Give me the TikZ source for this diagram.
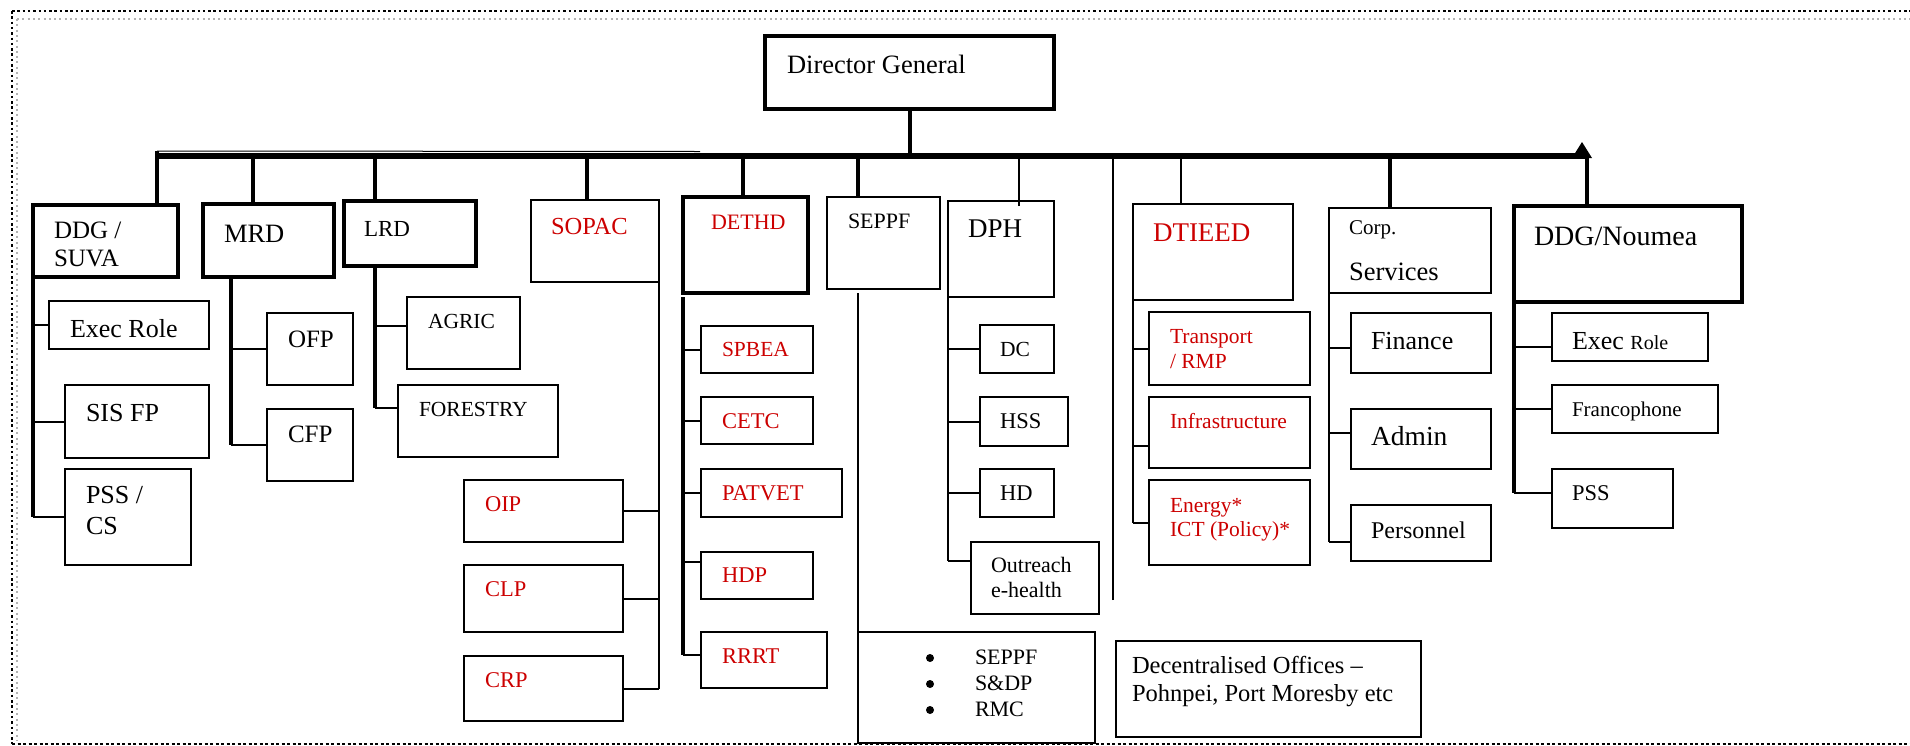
\documentclass[tikz,border=0pt]{standalone}
\usepackage{fontspec}
\setmainfont{Liberation Serif}
\definecolor{redt}{RGB}{204,0,0}
\newcommand\mkbox[6]{\node[#1, minimum width={(#4-#2)*1pt}, minimum height={(#5-#3)*1pt}, anchor=north west] (#6) at (#2,#3) {};}
\newcommand\fs[1]{\fontsize{#1}{#1}\selectfont}
\begin{document}
\begin{tikzpicture}[x=1pt,y=-1pt,
  box/.style={draw, line width=2pt, inner sep=0pt, outer sep=0pt},
  tbox/.style={draw, line width=4.5pt, inner sep=0pt, outer sep=0pt},
  txt/.style={anchor=base west, inner sep=0pt, outer sep=0pt},
  rtxt/.style={txt, text=redt},
  bulletdot/.style={circle, fill, inner sep=0pt, minimum size=8pt},
  conn/.style={line width=2pt},
  thinc/.style={line width=1.6pt},
  thickc/.style={line width=4pt},
  busline/.style={line width=6pt}]
\useasboundingbox (0,0) rectangle (1910,745);
% frame
\draw[line width=2.5pt, dash pattern=on 2.5pt off 2.8pt] (12,11) -- (1910,11);
\draw[gray!60, line width=2pt, dash pattern=on 2pt off 3.3pt] (17,19) -- (1910,19);
\draw[line width=2.5pt, dash pattern=on 2.5pt off 2.8pt] (12,11) -- (12,744);
\draw[gray!60, line width=2pt, dash pattern=on 2pt off 3.3pt] (17,19) -- (17,740);
\draw[line width=1.2pt, dash pattern=on 3pt off 2.5pt] (12,744) -- (1910,744);
% top-level boxes
\mkbox{tbox}{765}{36}{1054}{109}{dg}
\mkbox{tbox}{33}{205}{178}{277}{ddg}
\mkbox{tbox}{203}{204}{334}{277}{mrd}
\mkbox{tbox}{344}{201}{476}{266}{lrd}
\mkbox{box}{531}{200}{659}{282}{sopac}
\mkbox{tbox}{683}{197}{808}{293}{dethd}
\mkbox{box}{827}{197}{940}{289}{seppf}
\mkbox{box}{948}{201}{1054}{297}{dph}
\mkbox{box}{1133}{204}{1293}{300}{dtieed}
\mkbox{box}{1329}{208}{1491}{293}{corp}
\mkbox{tbox}{1514}{206}{1742}{302}{ddgn}
% child boxes
\mkbox{box}{49}{301}{209}{349}{execa}
\mkbox{box}{65}{385}{209}{458}{sisfp}
\mkbox{box}{65}{469}{191}{565}{psscs}
\mkbox{box}{267}{313}{353}{385}{ofp}
\mkbox{box}{267}{409}{353}{481}{cfp}
\mkbox{box}{407}{297}{520}{369}{agric}
\mkbox{box}{398}{385}{558}{457}{forestry}
\mkbox{box}{464}{480}{623}{542}{oip}
\mkbox{box}{464}{565}{623}{632}{clp}
\mkbox{box}{464}{656}{623}{721}{crp}
\mkbox{box}{701}{326}{813}{373}{spbea}
\mkbox{box}{701}{397}{813}{444}{cetc}
\mkbox{box}{701}{469}{842}{517}{patvet}
\mkbox{box}{701}{552}{813}{599}{hdp}
\mkbox{box}{701}{632}{827}{688}{rrrt}
\mkbox{box}{980}{325}{1054}{373}{dc}
\mkbox{box}{980}{397}{1068}{446}{hss}
\mkbox{box}{980}{469}{1054}{517}{hd}
\mkbox{box}{971}{542}{1099}{614}{outreach}
\mkbox{box}{858}{632}{1095}{743}{bul}
\mkbox{box}{1116}{641}{1421}{737}{decen}
\mkbox{box}{1149}{312}{1310}{385}{transport}
\mkbox{box}{1149}{397}{1310}{468}{infra}
\mkbox{box}{1149}{480}{1310}{565}{energy}
\mkbox{box}{1351}{313}{1491}{373}{finance}
\mkbox{box}{1351}{409}{1491}{469}{admin}
\mkbox{box}{1351}{505}{1491}{561}{personnel}
\mkbox{box}{1552}{313}{1708}{361}{execb}
\mkbox{box}{1552}{385}{1718}{433}{franco}
\mkbox{box}{1552}{469}{1673}{528}{pssb}
% bus
\coordinate (busL) at (157,156);
\coordinate (busR) at (1588,156);
\draw[line width=1pt] (157,151) -- (700,151.5);
\draw[busline] (busL) -- (busR);
\fill (1572,158) -- (1582,142) -- (1592,158) -- cycle;
% drops
\draw[thickc] (dg.south) -- (dg.south |- busL);
\draw[thickc] ([yshift=5pt]busL) -- (busL |- ddg.north);
\coordinate (dMRD) at ([xshift=50pt]mrd.north west);
\coordinate (dLRD) at ([xshift=31pt]lrd.north west);
\coordinate (dSOP) at ([xshift=56pt]sopac.north west);
\coordinate (dDET) at ([xshift=60pt]dethd.north west);
\coordinate (dSEP) at ([xshift=31pt]seppf.north west);
\coordinate (dDPH) at ([xshift=71pt,yshift=-5pt]dph.north west);
\coordinate (dDTI) at ([xshift=48pt]dtieed.north west);
\coordinate (dCOR) at ([xshift=61pt]corp.north west);
\coordinate (dDDN) at ([xshift=73pt]ddgn.north west);
\coordinate (stray) at (1113,600);
\foreach \d in {dMRD,dLRD,dSOP,dDET,dSEP,dCOR,dDDN}{\draw[thickc] (\d) -- (\d |- busL);}
\draw[thinc] (dDPH) -- (dDPH |- busL);
\draw[thinc] (dDTI) -- (dDTI |- busL);
\draw[thinc] (stray) -- (stray |- busL);
% DDG / SUVA branch
\draw[thickc] (ddg.south west) -- (ddg.south west |- psscs.west);
\draw[conn] (ddg.south west |- execa.west) -- (execa.west);
\draw[conn] (ddg.south west |- sisfp.west) -- (sisfp.west);
\draw[conn] (ddg.south west |- psscs.west) -- (psscs.west);
% MRD branch
\coordinate (vMRD) at ([xshift=28pt]mrd.south west);
\draw[thickc] (vMRD) -- (vMRD |- cfp.west);
\draw[conn] (vMRD |- ofp.west) -- (ofp.west);
\draw[conn] (vMRD |- cfp.west) -- (cfp.west);
% LRD branch
\coordinate (vLRD) at ([xshift=31pt]lrd.south west);
\draw[thickc] (vLRD) -- ([yshift=13pt]forestry.west -| vLRD);
\draw[conn] ([yshift=7pt]agric.west) -- ([yshift=7pt]agric.west -| vLRD);
\draw[conn] ([yshift=13pt]forestry.west) -- ([yshift=13pt]forestry.west -| vLRD);
% SOPAC branch
\draw[conn] (sopac.south east) -- (sopac.south east |- crp.east);
\draw[conn] (oip.east) -- (oip.east -| sopac.south east);
\draw[conn] (clp.east) -- (clp.east -| sopac.south east);
\draw[conn] (crp.east) -- (crp.east -| sopac.south east);
% DETHD branch
\coordinate (vDET) at ([yshift=-4pt]dethd.south west);
\draw[thickc] (vDET) -- ([yshift=5pt]vDET |- rrrt.west);
\draw[conn] (vDET |- spbea.west) -- (spbea.west);
\draw[conn] (vDET |- cetc.west) -- (cetc.west);
\draw[conn] (vDET |- patvet.west) -- (patvet.west);
\draw[conn] ([yshift=14pt]vDET |- hdp.west) -- ([yshift=14pt]hdp.west);
\draw[conn] ([yshift=5pt]vDET |- rrrt.west) -- ([yshift=5pt]rrrt.west);
% SEPPF branch
\draw[thinc] ([yshift=-4pt]dSEP |- seppf.south) -- (bul.north west);
% DPH branch
\draw[conn] (dph.south west) -- ([yshift=17pt]dph.south west |- outreach.west);
\draw[conn] (dph.south west |- dc.west) -- (dc.west);
\draw[conn] (dph.south west |- hss.west) -- (hss.west);
\draw[conn] (dph.south west |- hd.west) -- (hd.west);
\draw[conn] ([yshift=17pt]dph.south west |- outreach.west) -- ([yshift=17pt]outreach.west);
% DTIEED branch
\draw[conn] (dtieed.south west) -- (dtieed.south west |- energy.west);
\draw[conn] (dtieed.south west |- transport.west) -- (transport.west);
\draw[conn] ([yshift=-13.5pt]dtieed.south west |- infra.west) -- ([yshift=-13.5pt]infra.west);
\draw[conn] (dtieed.south west |- energy.west) -- (energy.west);
% Corp branch
\draw[conn] (corp.south west) -- ([yshift=-9pt]corp.south west |- personnel.west);
\draw[conn] ([yshift=-5pt]corp.south west |- finance.west) -- ([yshift=-5pt]finance.west);
\draw[conn] ([yshift=6pt]corp.south west |- admin.west) -- ([yshift=6pt]admin.west);
\draw[conn] ([yshift=-9pt]corp.south west |- personnel.west) -- ([yshift=-9pt]personnel.west);
% DDG Noumea branch
\draw[thickc] (ddgn.south west) -- ([yshift=5.5pt]ddgn.south west |- pssb.west);
\draw[conn] ([yshift=-10pt]ddgn.south west |- execb.west) -- ([yshift=-10pt]execb.west);
\draw[conn] (ddgn.south west |- franco.west) -- (franco.west);
\draw[conn] ([yshift=5.5pt]ddgn.south west |- pssb.west) -- ([yshift=5.5pt]pssb.west);
% texts
\node[txt] (tdg) at (787,73) {\fs{26.5}Director General};
\node[txt] (tddg1) at (54,238) {\fs{25}DDG /};
\node[txt] (tddg2) at (54,266) {\fs{25}SUVA};
\node[txt] (tmrd) at (224,242) {\fs{26.5}MRD};
\node[txt] (tlrd) at (364,236) {\fs{23}LRD};
\node[rtxt] (tsopac) at (551,234) {\fs{24.5}SOPAC};
\node[txt] (texeca) at (70,337) {\fs{26}Exec Role};
\node[txt] (tagric) at (428,328) {\fs{21.5}AGRIC};
\node[txt] (tofp) at (288,347) {\fs{25}OFP};
\node[txt] (tsis) at (86,421) {\fs{26}SIS FP};
\node[txt] (tpss1) at (86,503) {\fs{26}PSS /};
\node[txt] (tpss2) at (86,534) {\fs{26}CS};
\node[txt] (tcfp) at (288,442) {\fs{25}CFP};
\node[txt] (tfor) at (419,416) {\fs{21.5}FORESTRY};
\node[rtxt] (toip) at (485,511) {\fs{22.5}OIP};
\node[rtxt] (tclp) at (485,596) {\fs{22.5}CLP};
\node[rtxt] (tcrp) at (485,687) {\fs{22.5}CRP};
\node[rtxt] (tdethd) at (711,229) {\fs{22}DETHD};
\node[txt] (tseppf) at (848,228) {\fs{22}SEPPF};
\node[txt] (tdph) at (968,237) {\fs{27}DPH};
\node[rtxt] (tdtieed) at (1153,241) {\fs{27}DTIEED};
\node[rtxt] (tspbea) at (722,356) {\fs{21.5}SPBEA};
\node[txt] (tdc) at (1000,356) {\fs{21.5}DC};
\node[rtxt] (ttr1) at (1170,343) {\fs{21.5}Transport};
\node[rtxt] (ttr2) at (1170,368) {\fs{21.5}/ RMP};
\node[rtxt] (tcetc) at (722,428) {\fs{22.5}CETC};
\node[rtxt] (tpatvet) at (722,500) {\fs{22.5}PATVET};
\node[rtxt] (thdp) at (722,582) {\fs{22.5}HDP};
\node[rtxt] (trrrt) at (722,663) {\fs{22.5}RRRT};
\node[txt] (thss) at (1000,428) {\fs{22.5}HSS};
\node[txt] (thd) at (1000,500) {\fs{22.5}HD};
\node[txt] (tout1) at (991,572) {\fs{22}Outreach};
\node[txt] (tout2) at (991,597) {\fs{22}e-health};
\node[rtxt] (tinfra) at (1170,428) {\fs{21.5}Infrastructure};
\node[rtxt] (ten1) at (1170,512) {\fs{21.5}Energy*};
\node[rtxt] (ten2) at (1170,536) {\fs{21.5}ICT (Policy)*};
\node[bulletdot] (b1) at (930,658) {};
\node[bulletdot] (b2) at (930,684) {};
\node[bulletdot] (b3) at (930,710) {};
\node[txt] (tb1) at (975,664) {\fs{22}SEPPF};
\node[txt] (tb2) at (975,690) {\fs{22}S\&DP};
\node[txt] (tb3) at (975,716) {\fs{22}RMC};
\node[txt] (tdec1) at (1132,673) {\fs{24.5}Decentralised Offices –};
\node[txt] (tdec2) at (1132,701) {\fs{24.5}Pohnpei, Port Moresby etc};
\node[txt] (tcorp1) at (1349,234) {\fs{21}Corp.};
\node[txt] (tcorp2) at (1349,280) {\fs{26.5}Services};
\node[txt] (tddgn) at (1534,245) {\fs{28}DDG/Noumea};
\node[txt] (tfin) at (1371,349) {\fs{26}Finance};
\node[txt] (texecb) at (1572,349) {\fs{26}Exec \fs{20}Role};
\node[txt] (tadmin) at (1371,445) {\fs{27.5}Admin};
\node[txt] (tpers) at (1371,538) {\fs{24}Personnel};
\node[txt] (tfranco) at (1572,416) {\fs{21}Francophone};
\node[txt] (tpssb) at (1572,500) {\fs{22.5}PSS};
\end{tikzpicture}
\end{document}
